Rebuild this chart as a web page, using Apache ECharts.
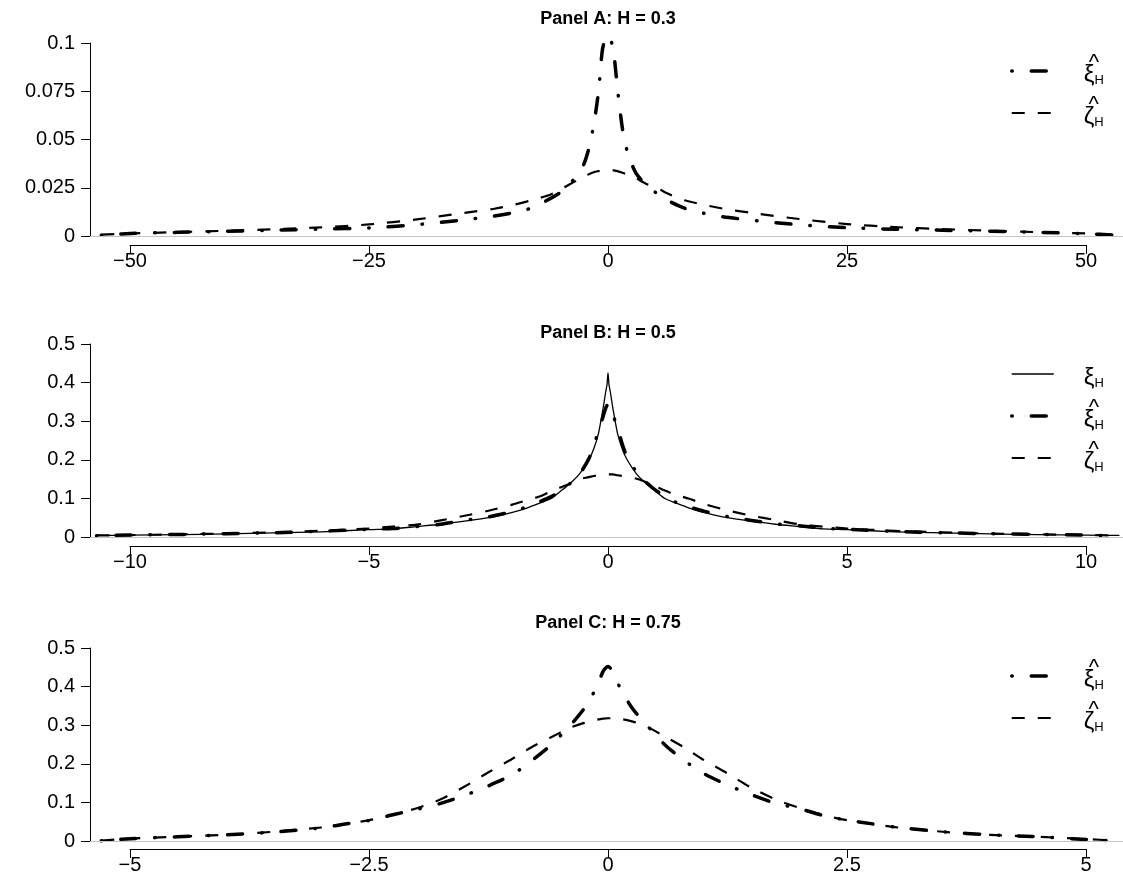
<!DOCTYPE html>
<html><head><meta charset="utf-8">
<script src="https://cdn.jsdelivr.net/npm/echarts@6/dist/echarts.min.js"></script>
<style>html,body{margin:0;padding:0;background:#fff}#c{width:1123px;height:879px}</style>
</head><body><div id="c"></div>
<script>
const FONT = '"Liberation Sans", Arial, Helvetica, sans-serif';

// ---------- Panel A: H = 0.3 ----------
const aX = [-53,-50,-45,-40,-35,-30,-25,-20,-15,-12,-10,-8,-6,-5,-4,-3,-2.5,-2,-1.5,-1,-0.6,-0.3,0,0.3,0.6,1,1.5,2,2.5,3,4,5,6,8,10,12,15,20,25,30,35,40,45,50,53];
const aXiHat = [0.0004,0.0013,0.0019,0.0024,0.0030,0.0036,0.0042,0.0059,0.0084,0.0103,0.0120,0.0145,0.0195,0.0225,0.0270,0.0330,0.0375,0.0455,0.0575,0.0745,0.0960,0.1020,0.1040,0.1015,0.0950,0.0760,0.0560,0.0440,0.0370,0.0320,0.0265,0.0225,0.0190,0.0144,0.0118,0.0100,0.0082,0.0058,0.0043,0.0035,0.0030,0.0025,0.0019,0.0012,0.0004];
const aZetaHat = [0.0007,0.0013,0.0020,0.0027,0.0035,0.0045,0.0060,0.0086,0.0120,0.0140,0.0160,0.0185,0.0215,0.0240,0.0268,0.0295,0.0308,0.0320,0.0330,0.0336,0.0340,0.0342,0.0342,0.0342,0.0340,0.0336,0.0328,0.0320,0.0312,0.0298,0.0270,0.0255,0.0225,0.0185,0.0162,0.0142,0.0120,0.0088,0.0062,0.0046,0.0036,0.0027,0.0020,0.0013,0.0007];
const aXTicks = [-50,-25,0,25,50];
const aYTicks = [0,0.025,0.05,0.075,0.1];

// ---------- Panel B: H = 0.5 ----------
const bX = [-10.7,-10,-9,-8,-7,-6,-5,-4.5,-4,-3.5,-3,-2.5,-2,-1.7,-1.4,-1.2,-1,-0.8,-0.6,-0.4,-0.3,-0.2,-0.1,-0.05,-0.02,0,0.02,0.05,0.1,0.2,0.3,0.4,0.6,0.8,1,1.2,1.4,1.7,2,2.5,3,3.5,4,4.5,5,6,7,8,9,10,10.7];
const bXi = [0.004,0.0048,0.006,0.008,0.0105,0.0135,0.019,0.021,0.027,0.033,0.041,0.050,0.064,0.075,0.089,0.099,0.118,0.138,0.163,0.200,0.228,0.268,0.335,0.375,0.395,0.425,0.395,0.375,0.335,0.268,0.228,0.200,0.163,0.138,0.118,0.099,0.089,0.075,0.064,0.050,0.041,0.033,0.027,0.021,0.019,0.0135,0.0105,0.008,0.006,0.0048,0.004];
const bXiHat = [0.003,0.005,0.0065,0.0085,0.011,0.015,0.020,0.022,0.027,0.033,0.043,0.052,0.066,0.078,0.093,0.104,0.118,0.138,0.162,0.203,0.236,0.274,0.313,0.333,0.341,0.345,0.342,0.338,0.318,0.282,0.240,0.207,0.168,0.142,0.121,0.105,0.091,0.078,0.067,0.053,0.043,0.034,0.029,0.023,0.020,0.0145,0.011,0.0085,0.0065,0.0048,0.003];
const bZetaHat = [0.004,0.005,0.0068,0.009,0.012,0.016,0.022,0.027,0.032,0.043,0.055,0.068,0.084,0.095,0.106,0.118,0.128,0.138,0.150,0.155,0.158,0.160,0.162,0.162,0.162,0.162,0.162,0.162,0.162,0.160,0.158,0.156,0.151,0.142,0.131,0.120,0.110,0.099,0.086,0.069,0.055,0.044,0.033,0.027,0.022,0.016,0.012,0.009,0.0068,0.005,0.004];
const bXTicks = [-10,-5,0,5,10];
const bYTicks = [0,0.1,0.2,0.3,0.4,0.5];

// ---------- Panel C: H = 0.75 ----------
const cX = [-5.3,-5,-4.5,-4,-3.5,-3,-2.75,-2.5,-2.25,-2,-1.75,-1.5,-1.25,-1,-0.8,-0.6,-0.4,-0.25,-0.12,-0.05,0,0.05,0.12,0.25,0.4,0.6,0.8,1,1.25,1.5,1.75,2,2.25,2.5,2.75,3,3.5,4,4.5,5,5.3];
const cXiHat = [0.0005,0.006,0.011,0.016,0.023,0.034,0.044,0.053,0.068,0.082,0.0975,0.118,0.143,0.172,0.208,0.248,0.298,0.343,0.398,0.440,0.452,0.440,0.400,0.345,0.302,0.248,0.208,0.175,0.145,0.120,0.098,0.084,0.066,0.054,0.045,0.036,0.024,0.016,0.011,0.004,0.0005];
const cZetaHat = [0.001,0.006,0.011,0.016,0.024,0.035,0.044,0.054,0.068,0.085,0.108,0.141,0.178,0.213,0.243,0.268,0.293,0.306,0.314,0.317,0.318,0.318,0.317,0.310,0.297,0.270,0.242,0.210,0.175,0.138,0.108,0.086,0.067,0.054,0.045,0.036,0.024,0.016,0.011,0.005,0.001];
const cXTicks = [-5,-2.5,0,2.5,5];
const cYTicks = [0,0.1,0.2,0.3,0.4,0.5];

const titles = ['Panel A: H = 0.3', 'Panel B: H = 0.5', 'Panel C: H = 0.75'];

// ---------- styling / layout (pixels) ----------
const styles = {
  xi:      {width: 1.3, type: 'solid',           cap: 'butt'},
  xiHat:   {width: 3.5, type: [0.5, 19, 15, 19], cap: 'round'},
  zetaHat: {width: 2.2, type: [13, 13],          cap: 'butt'}
};
const labels = {
  xi:      '{sp|}{hat|}\n{sp|}{g|\u03BE}{s|H}',
  xiHat:   '{sp|}{hat|^}\n{sp|}{g|\u03BE}{s|H}',
  zetaHat: '{sp|}{hat|^}\n{sp|}{g|\u03B6}{s|H}'
};
const layout = [
  {zeroY: 236, axisY: 245, titleTop: 10,  legendTop: 52},
  {zeroY: 537, axisY: 546, titleTop: 324, legendTop: 355},
  {zeroY: 841, axisY: 849, titleTop: 614, legendTop: 657}
];
const Y_LEN = 193, X_LEFT = 130, X_RIGHT = 1086, X_MID = 608, Y_AXIS_X = 90, CHART_RIGHT = 1123;

const panels = [
  {x: aX, series: [['zetaHat', aZetaHat], ['xiHat', aXiHat]], legend: ['xiHat','zetaHat'], xTicks: aXTicks, yTicks: aYTicks},
  {x: bX, series: [['zetaHat', bZetaHat], ['xiHat', bXiHat], ['xi', bXi]], legend: ['xi','xiHat','zetaHat'], xTicks: bXTicks, yTicks: bYTicks},
  {x: cX, series: [['zetaHat', cZetaHat], ['xiHat', cXiHat]], legend: ['xiHat','zetaHat'], xTicks: cXTicks, yTicks: cYTicks}
];

const grid = [], xAxis = [], yAxis = [], series = [], title = [], legend = [];
const axisCommon = {
  axisLine: {show: true, onZero: false, lineStyle: {color: '#000', width: 1}},
  axisTick: {show: true, length: 9, lineStyle: {color: '#000', width: 1}},
  splitLine: {show: false}
};
const fmtTick = (ticks) => (v) => {
  const t = ticks.find(t => Math.abs(t - v) < 1e-9);
  const val = t === undefined ? v : t;
  return val < 0 ? '\u2212' + String(Math.abs(val)) : String(val);
};

panels.forEach((p, i) => {
  const lay = layout[i];
  const L = p.xTicks[p.xTicks.length - 1];
  const xppu = (X_RIGHT - X_LEFT) / 2 / L;
  const yTop = p.yTicks[p.yTicks.length - 1];
  const yppu = Y_LEN / yTop;

  // data grid (hidden axes)
  const gData = grid.length;
  grid.push({left: Y_AXIS_X, width: CHART_RIGHT - Y_AXIS_X, top: lay.zeroY - 215, height: 224});
  xAxis.push({type: 'value', gridIndex: gData, show: false, min: (Y_AXIS_X - X_MID) / xppu, max: (CHART_RIGHT - X_MID) / xppu});
  yAxis.push({type: 'value', gridIndex: gData, show: false, min: -9 / yppu, max: 215 / yppu});
  const dataAxisIdx = xAxis.length - 1;

  // y axis display grid
  const gY = grid.length;
  grid.push({left: Y_AXIS_X, width: 20, top: lay.zeroY - Y_LEN, height: Y_LEN});
  xAxis.push({type: 'value', gridIndex: gY, show: false, min: 0, max: 1});
  yAxis.push(Object.assign({type: 'value', gridIndex: gY, position: 'left', min: p.yTicks[0], max: yTop,
    interval: p.yTicks[1] - p.yTicks[0],
    axisLabel: {fontSize: 20, color: '#000', fontFamily: FONT, margin: 15, formatter: fmtTick(p.yTicks)}}, axisCommon));

  // x axis display grid
  const gX = grid.length;
  grid.push({left: X_LEFT, width: X_RIGHT - X_LEFT, top: lay.axisY - 20, height: 20});
  xAxis.push(Object.assign({type: 'value', gridIndex: gX, position: 'bottom', min: p.xTicks[0], max: L,
    interval: p.xTicks[1] - p.xTicks[0],
    axisLabel: {fontSize: 20, color: '#000', fontFamily: FONT, margin: 6, formatter: fmtTick(p.xTicks)}}, axisCommon));
  yAxis.push({type: 'value', gridIndex: gX, show: false, min: 0, max: 1});

  p.series.forEach(([key, vals], k) => {
    const st = styles[key];
    const s = {
      type: 'line', name: key + '-' + i, xAxisIndex: dataAxisIdx, yAxisIndex: dataAxisIdx,
      data: p.x.map((x, j) => [x, vals[j]]), symbol: 'none', smooth: 0.25, clip: false,
      silent: true, animation: false, z: 3 + k,
      lineStyle: {color: '#000', width: st.width, type: st.type, cap: st.cap, join: 'round'}
    };
    if (k === 0) {
      s.markLine = {silent: true, symbol: 'none', animation: false, label: {show: false},
        lineStyle: {color: '#c4c4c4', width: 1, type: 'solid'}, data: [{yAxis: 0}]};
    }
    series.push(s);
  });

  title.push({text: titles[i], left: X_MID, top: lay.titleTop, textAlign: 'center', padding: 0,
    textStyle: {fontSize: 18, fontWeight: 'bold', color: '#000', fontFamily: FONT}});

  legend.push({
    orient: 'vertical', left: 1010, top: lay.legendTop, padding: 0, itemWidth: 42, itemHeight: 32, itemGap: 7,
    selectedMode: false, itemStyle: {opacity: 0},
    data: p.legend.map(key => ({name: key + '-' + i,
      lineStyle: {color: '#000', width: styles[key].width, type: styles[key].type, cap: styles[key].cap}})),
    formatter: name => labels[name.split('-')[0]],
    textStyle: {color: '#000', padding: [6, 0, 0, 0], rich: {
      sp: {width: 25, lineHeight: 4, fontSize: 4},
      hat: {width: 12, align: 'center', fontSize: 22, fontFamily: FONT, color: '#000', lineHeight: 4},
      g: {fontSize: 24, fontFamily: FONT, color: '#000', lineHeight: 22, verticalAlign: 'bottom'},
      s: {fontSize: 13, fontFamily: FONT, color: '#000', lineHeight: 14, verticalAlign: 'bottom'}
    }}
  });
});

const chart = echarts.init(document.getElementById('c'), null, {renderer: 'canvas'});
chart.setOption({animation: false, backgroundColor: '#fff', title, legend, grid, xAxis, yAxis, series, tooltip: {show: false}});
</script>
</body></html>
